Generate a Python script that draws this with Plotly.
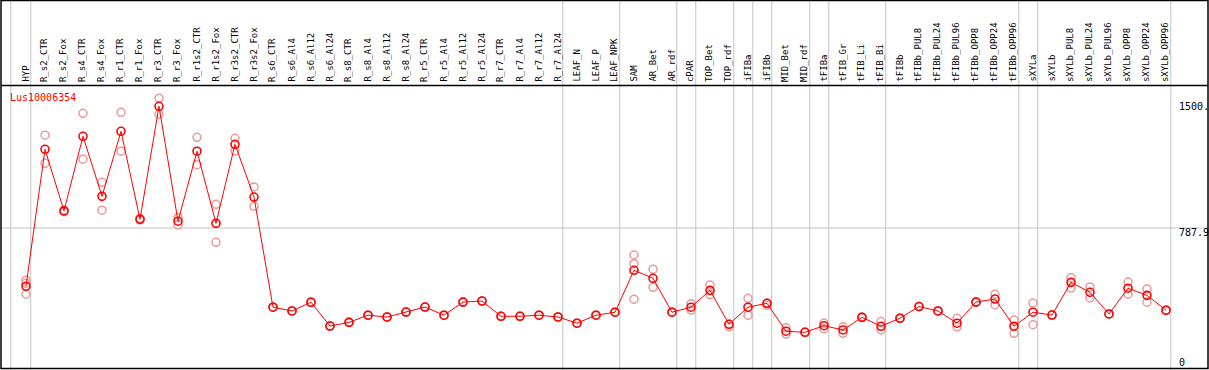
import plotly.graph_objects as go

categories = ["HYP", "R_s2_CTR", "R_s2_Fox", "R_s4_CTR", "R_s4_Fox", "R_r1_CTR", "R_r1_Fox",
              "R_r3_CTR", "R_r3_Fox", "R_r1s2_CTR", "R_r1s2_Fox", "R_r3s2_CTR", "R_r3s2_Fox",
              "R_s6_CTR", "R_s6_Al4", "R_s6_Al12", "R_s6_Al24", "R_s8_CTR", "R_s8_Al4", "R_s8_Al12",
              "R_s8_Al24", "R_r5_CTR", "R_r5_Al4", "R_r5_Al12", "R_r5_Al24", "R_r7_CTR", "R_r7_Al4",
              "R_r7_Al12", "R_r7_Al24", "LEAF_N", "LEAF_P", "LEAF_NPK", "SAM", "AR_Bet", "AR_rdf",
              "cPAR", "TOP_Bet", "TOP_rdf", "iFIBa", "iFIBb", "MID_Bet", "MID_rdf", "tFIBa",
              "tFIB_Gr", "tFIB_Li", "tFIB_Bi", "tFIBb", "tFIBb_PUL8", "tFIBb_PUL24", "tFIBb_PUL96",
              "tFIBb_OPP8", "tFIBb_OPP24", "tFIBb_OPP96", "sXYLa", "sXYLb", "sXYLb_PUL8",
              "sXYLb_PUL24", "sXYLb_PUL96", "sXYLb_OPP8", "sXYLb_OPP24", "sXYLb_OPP96"]

mean_values = [460, 1231, 884, 1304, 966, 1332, 837, 1473, 826, 1220, 814, 1259, 962,
               342, 321, 370, 236, 257, 297, 287, 315, 343, 297, 371, 377, 291, 291, 297, 287,
               252, 297, 314, 550, 505, 314, 342, 437, 246, 342, 364, 207, 201, 238,
               214, 285, 235, 280, 346, 321, 252, 371, 388, 235, 314, 298, 482,
               426, 304, 449, 409, 325]

rep_a = [494, 1310, 880, 1433, 1045, 1439, 843, 1518, 846, 1298, 921, 1293, 1019,
         342, 321, 370, 236, 257, 297, 287, 315, 343, 297, 371, 377, 291, 291, 297, 287,
         252, 297, 314, 636, 556, 314, 362, 467, 232, 392, 353, 227, 201, 253,
         195, 285, 261, 280, 346, 321, 280, 371, 415, 270, 366, 298, 508,
         456, 304, 484, 445, 325]

rep_b = [477, 1152, 888, 1175, 888, 1220, 833, 1428, 805, 1144, 707, 1221, 910,
         342, 321, 370, 236, 257, 297, 287, 315, 343, 297, 371, 377, 291, 291, 297, 287,
         252, 297, 314, 587, 454, 314, 326, 413, 246, 297, 364, 191, 201, 221,
         232, 285, 214, 280, 346, 321, 232, 371, 356, 195, 244, 298, 450,
         394, 304, 415, 370, 325]

rep_c = [415, None, None, None, None, None, None, None, None, None, None, None, None,
         None, None, None, None, None, None, None, None, None, None, None, None, None, None, None, None,
         None, None, None, 387, None, None, None, None, None, None, None, None, None, None,
         None, None, None, None, None, None, None, None, None, None, None, None, None,
         None, None, None, None, None]

group_sizes = [1, 28, 3, 3, 1, 2, 1, 1, 2, 1, 3, 7, 1, 7]

ytick_vals = [1500, 787.9, 0]
ytick_text = ["1500.", "787.9", "0"]
ytick_shift = [-5, -4, 6]

title_text = "Lus10006354"

W, H = 1209, 370
X0, DX = 26, 19          # pixel of first category, pixel step
Y_ZERO, Y_GRID = 368, 228  # pixel rows of 0 and 787.9

idx = list(range(len(categories)))

# axis ranges so that data-space maps onto the reference pixel grid
xr = [(0 - X0) / DX, (W - X0) / DX]
R = 787.9 * H / (Y_ZERO - Y_GRID)
ymin = -(H - Y_ZERO) / H * R
yr = [ymin, ymin + R]

rep_color = "#e99a9a"
red = "#ff0000"

fig = go.Figure()
for reps in (rep_a, rep_b, rep_c):
    xs = [i for i, v in zip(idx, reps) if v is not None]
    ys = [v for v in reps if v is not None]
    fig.add_trace(go.Scatter(x=xs, y=ys, mode="markers",
                             marker=dict(symbol="circle-open", size=8, color=rep_color,
                                         line=dict(width=1.5, color=rep_color)),
                             showlegend=False, hoverinfo="skip"))

fig.add_trace(go.Scatter(x=idx, y=mean_values, mode="lines+markers",
                         line=dict(color=red, width=1),
                         marker=dict(symbol="circle-open", size=8, color=red,
                                     line=dict(width=1.6, color=red)),
                         showlegend=False))

shapes = []
gray = "#c4c4c4"
# group separators
bounds = [-0.8]
acc = 0
for g in group_sizes:
    acc += g
    bounds.append(acc - 1 + 0.25)
for b in bounds:
    shapes.append(dict(type="line", xref="x", yref="paper", x0=b, x1=b, y0=0, y1=1,
                       line=dict(color=gray, width=1), layer="below"))
# horizontal grid at middle tick
shapes.append(dict(type="line", xref="paper", yref="y", x0=1 / W, x1=1208 / W,
                   y0=ytick_vals[1], y1=ytick_vals[1], line=dict(color=gray, width=1), layer="below"))

def px_x(p):
    return p / W

def px_y(p):
    return 1 - p / H

black = "#000000"
# frame and header separator
shapes.append(dict(type="rect", xref="paper", yref="paper", x0=px_x(1), x1=px_x(1208),
                   y0=px_y(368.5), y1=px_y(0.5), line=dict(color=black, width=1.5)))
shapes.append(dict(type="line", xref="paper", yref="paper", x0=px_x(1), x1=px_x(1208),
                   y0=px_y(85.5), y1=px_y(85.5), line=dict(color=black, width=1.5)))

annotations = []
mono = "DejaVu Sans Mono"
for i, c in zip(idx, categories):
    annotations.append(dict(x=i - 0.05, y=px_y(83), xref="x", yref="paper", text=c,
                            textangle=-90, showarrow=False, xanchor="center", yanchor="bottom",
                            font=dict(family=mono, size=9, color=black), borderpad=0))
for v, t, s in zip(ytick_vals, ytick_text, ytick_shift):
    annotations.append(dict(x=px_x(1177), y=v, xref="paper", yref="y", text=t, showarrow=False,
                            xanchor="left", yanchor="middle", yshift=s,
                            font=dict(family=mono, size=10, color=black)))
annotations.append(dict(x=px_x(8), y=px_y(97), xref="paper", yref="paper", text=title_text,
                        showarrow=False, xanchor="left", yanchor="middle",
                        font=dict(family=mono, size=10, color=red)))

fig.update_layout(width=W, height=H, margin=dict(l=0, r=0, t=0, b=0),
                  paper_bgcolor="white", plot_bgcolor="white",
                  xaxis=dict(range=xr, visible=False, fixedrange=True),
                  yaxis=dict(range=yr, visible=False, fixedrange=True),
                  shapes=shapes, annotations=annotations, showlegend=False)

fig.write_html("out.html", config={"displayModeBar": False},
               post_script="document.body.style.margin='0';document.body.style.overflow='hidden';")
